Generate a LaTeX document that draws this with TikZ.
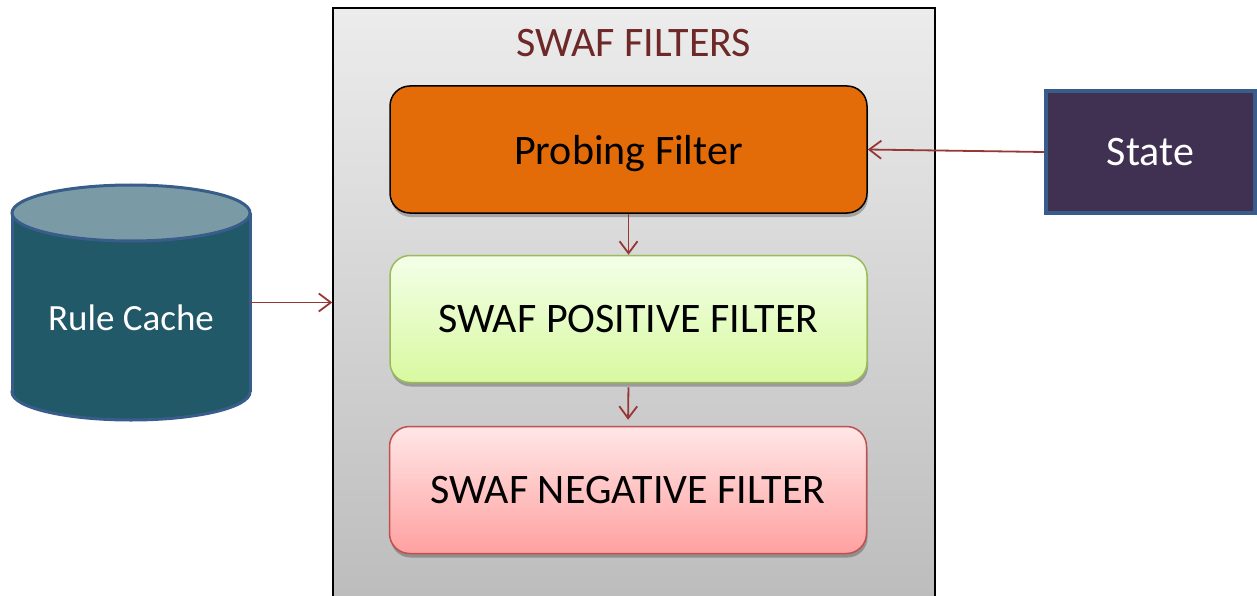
\documentclass[tikz,border=0pt]{standalone}
\usepackage{fontspec}
\setmainfont{Carlito}
\usetikzlibrary{arrows.meta,shadows}
\definecolor{arrowred}{RGB}{150,55,53}
\definecolor{probefill}{RGB}{227,108,9}
\definecolor{postop}{RGB}{243,255,232}
\definecolor{posbot}{RGB}{216,249,160}
\definecolor{posline}{RGB}{155,187,89}
\definecolor{negtop}{RGB}{255,231,231}
\definecolor{negbot}{RGB}{255,160,160}
\definecolor{negline}{RGB}{192,80,77}
\definecolor{cylbody}{RGB}{33,89,104}
\definecolor{cyltop}{RGB}{122,155,165}
\definecolor{blueline}{RGB}{56,93,138}
\definecolor{statefill}{RGB}{64,49,82}
\definecolor{titlered}{RGB}{110,40,40}
\definecolor{outertop}{RGB}{236,236,236}
\definecolor{outerbot}{RGB}{188,188,188}
\begin{document}
\begin{tikzpicture}[x=1pt,y=-1pt,
  bigfont/.style={font=\fontsize{42}{50}\selectfont},
  filterbox/.style={rounded corners=20pt, minimum width=477pt, minimum height=127pt,
    inner sep=0pt, line width=1.5pt, bigfont, text depth=0pt,
    drop shadow={shadow xshift=1pt, shadow yshift=-4pt, opacity=0.25, fill=black}},
  flow/.style={draw=arrowred, line width=1.8pt, -{Straight Barb[length=12pt,width=18pt,line width=1.8pt]}},
  cylline/.style={draw=blueline, line width=3pt}
]
\useasboundingbox (0,0) rectangle (1257,596);
\clip (0,0) rectangle (1257,596);

% outer container
\node[draw=black, line width=1.5pt, top color=outertop, bottom color=outerbot,
  minimum width=602pt, minimum height=600pt, inner sep=0pt] (outer) at (634,308) {};
\node[text=titlered, bigfont] (title) at (634,43) {SWAF FILTERS};

% filters
\node[filterbox, draw=black, fill=probefill] (probe) at (628.5,149.5) {Probing Filter};
\node[filterbox, draw=posline, top color=postop, bottom color=posbot] (pos) at (628.5,319) {SWAF POSITIVE FILTER};
\node[filterbox, draw=negline, top color=negtop, bottom color=negbot] (neg) at (628,490) {SWAF NEGATIVE FILTER};

% state
\node[draw=blueline, line width=4pt, fill=statefill, text=white, bigfont,
  minimum width=209pt, minimum height=122pt, inner sep=0pt] (state) at (1150.5,152) {State};

% rule cache cylinder
\node[minimum width=238pt, minimum height=235pt, inner sep=0pt] (cache) at (131,302.5) {};
\draw[cylline, fill=cylbody] (131,392) ellipse[x radius=119, y radius=28];
\fill[cylbody] (12,213) rectangle (250,392);
\draw[cylline] (12,213) -- (12,392);
\draw[cylline] (250,213) -- (250,392);
\draw[cylline, fill=cyltop] (131,213) ellipse[x radius=119, y radius=28];
\node[text=white, font=\fontsize{37}{44}\selectfont] (cachelabel) at (131,318) {Rule Cache};

% connectors
\draw[flow] (cache.east) -- (cache.east -| outer.west);
\draw[flow] (state.west) -- (probe.east);
\draw[flow] (probe.south) -- (pos.north);
\draw[flow, shorten <=4pt, shorten >=6pt] (pos.south) -- (neg.north);
\end{tikzpicture}
\end{document}
